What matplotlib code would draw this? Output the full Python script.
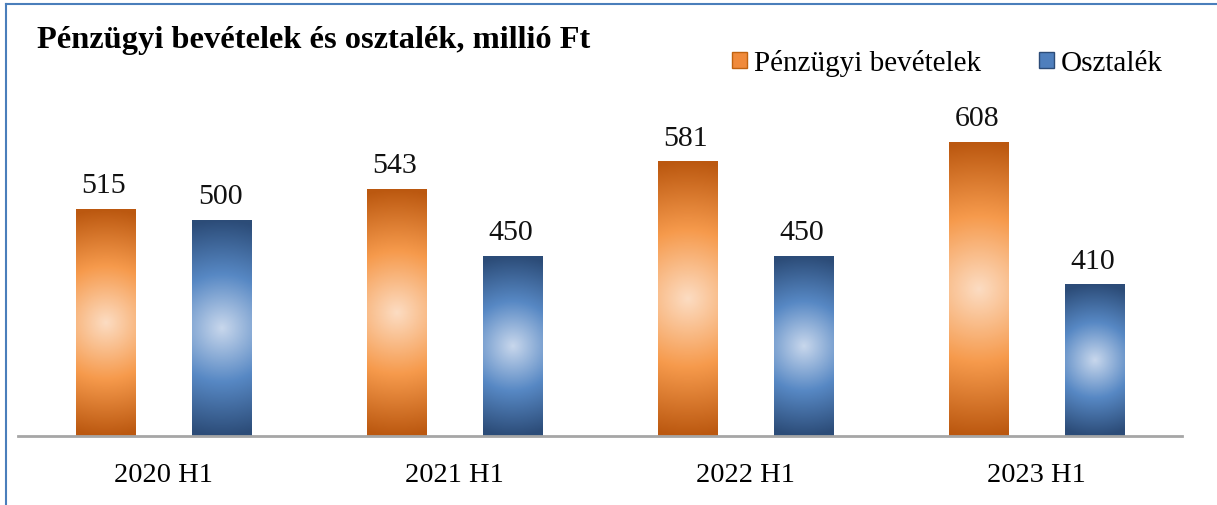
import numpy as np
import matplotlib
matplotlib.use("Agg")
import matplotlib.pyplot as plt
from matplotlib.colors import LinearSegmentedColormap
from matplotlib.patches import Rectangle
from matplotlib.lines import Line2D

categories = ["2020 H1", "2021 H1", "2022 H1", "2023 H1"]
series_names = ["Pénzügyi bevételek", "Osztalék"]
penzugyi = [515, 543, 581, 608]
osztalek = [500, 450, 450, 410]
title = "Pénzügyi bevételek és osztalék, millió Ft"

plt.rcParams['font.family'] = ['Liberation Serif', 'DejaVu Serif']

W, H = 1217, 506
fig = plt.figure(figsize=(W / 100, H / 100), dpi=100)
ax = fig.add_axes([18 / W, 1 - 437 / H, (1182 - 18) / W, (437 - 77) / H])

ymin, ymax = 200, 700
ax.set_xlim(-0.5, 3.5)
ax.set_ylim(ymin, ymax)

orange_cmap = LinearSegmentedColormap.from_list(
    "or", [(0.0, "#FCDCC2"), (0.5, "#F69A4C"), (1.0, "#BB5810")])
blue_cmap = LinearSegmentedColormap.from_list(
    "bl", [(0.0, "#C8D7EC"), (0.5, "#5788C4"), (1.0, "#2C4C78")])

bar_w = 0.203
offs = [-0.2, 0.2]
ax_h_px = 437 - 77
ax_w_px = 1182 - 18
px_per_unit_y = ax_h_px / (ymax - ymin)
px_per_cat = ax_w_px / 4.0


def grad_bar(x, val, cmap):
    wpx = bar_w * px_per_cat
    hpx = (val - ymin) * px_per_unit_y
    nx, ny = 60, 300
    u = np.linspace(-1, 1, nx)
    v = np.linspace(-1, 1, ny)
    U, V = np.meshgrid(u, v)
    dx = U * wpx / 2
    dy = V * hpx / 2
    d = np.sqrt(dx ** 2 + dy ** 2) / (hpx / 2)
    d = np.clip(d, 0, 1)
    ax.imshow(d, cmap=cmap, vmin=0, vmax=1, aspect='auto',
              extent=[x - bar_w / 2, x + bar_w / 2, ymin, val],
              origin='lower', interpolation='bilinear', zorder=2)


for i, (p, o) in enumerate(zip(penzugyi, osztalek)):
    for val, off, cmap in ((p, offs[0], orange_cmap), (o, offs[1], blue_cmap)):
        x = i + off
        grad_bar(x, val, cmap)
        ax.text(x - 0.005, val + 15, f"{val}", ha='center', va='bottom', fontsize=21.5,
                color='#111111')

ax.set_xlim(-0.5, 3.5)
ax.set_ylim(ymin, ymax)
for s in ['left', 'right', 'top']:
    ax.spines[s].set_visible(False)
ax.spines['bottom'].set_color('#A6A6A6')
ax.spines['bottom'].set_linewidth(2)
ax.set_yticks([])
ax.set_xticks(range(4))
ax.set_xticklabels(categories, fontsize=20.5)
ax.tick_params(axis='x', length=0, pad=19)
ax.patch.set_alpha(0)

fig.text(37 / W, 1 - 48 / H, title, fontsize=23.3, fontweight='bold',
         ha='left', va='baseline')

handles = [Rectangle((0, 0), 1, 1, facecolor="#F08A3A", edgecolor="#C0620F"),
           Rectangle((0, 0), 1, 1, facecolor="#4F7FBD", edgecolor="#2C4C78")]
fig.legend(handles, series_names, loc='center left',
           bbox_to_anchor=(732 / W, 1 - 64 / H), ncol=2, frameon=False,
           fontsize=21, handlelength=0.5, handleheight=0.5, handletextpad=0.25,
           columnspacing=2.0, borderaxespad=0, borderpad=0)

# blue border (left and top visible)
fig.add_artist(Line2D([6 / W, 6 / W], [0, 1 - 5 / H], color='#4A7EBB', lw=1.5,
                      transform=fig.transFigure))
fig.add_artist(Line2D([6 / W, 1], [1 - 5 / H, 1 - 5 / H], color='#4A7EBB', lw=1.5,
                      transform=fig.transFigure))

fig.savefig("out.png", dpi=100)
